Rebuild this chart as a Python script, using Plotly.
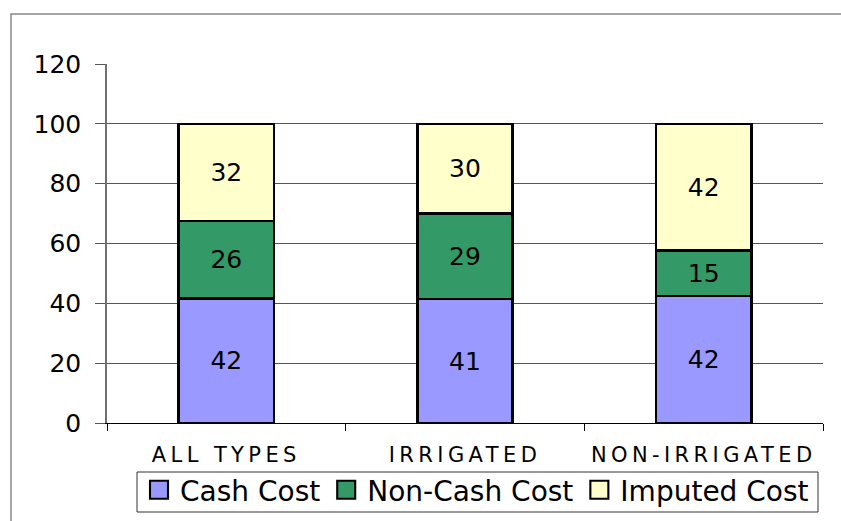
import plotly.graph_objects as go

categories = ["ALL TYPES", "IRRIGATED", "NON-IRRIGATED"]
cash_cost = [41.7, 41.4, 42.4]
non_cash_cost = [25.9, 28.7, 15.2]
imputed_cost = [32.4, 29.9, 42.4]
y_ticks = [0, 20, 40, 60, 80, 100, 120]

FONT = "DejaVu Sans"
W, H = 841, 521
L, R, T, B = 107, 18, 64, 98
pw, ph = W - L - R, H - T - B

def px_x(p):
    return (p - L) / pw

def px_y(p):
    return (H - B - p) / ph

series = [
    ("Cash Cost", cash_cost, "#9999FF"),
    ("Non-Cash Cost", non_cash_cost, "#339966"),
    ("Imputed Cost", imputed_cost, "#FFFFCC"),
]

fig = go.Figure()
for name, vals, color in series:
    fig.add_trace(go.Bar(
        x=categories, y=vals, name=name,
        marker=dict(color=color, line=dict(color="black", width=2.5)),
        texttemplate="%{y:.0f}", textposition="inside",
        insidetextanchor="middle",
        textfont=dict(family=FONT, size=25, color="black"),
        constraintext="none",
    ))

fig.update_layout(
    width=W, height=H,
    margin=dict(l=L, r=R, t=T, b=B, autoexpand=False),
    barmode="stack", bargap=0.6,
    paper_bgcolor="white", plot_bgcolor="white",
    font=dict(family=FONT, color="black"),
    showlegend=True,
    legend=dict(
        orientation="h",
        x=px_x(138), xanchor="left",
        y=px_y(465), yanchor="top",
        font=dict(family=FONT, size=28, color="black"),
        bgcolor="rgba(0,0,0,0)", borderwidth=0,
        itemwidth=32,
        traceorder="normal",
    ),
    xaxis=dict(
        type="category", tickson="boundaries",
        ticks="outside", ticklen=7, tickcolor="black", tickwidth=1,
        showline=True, linecolor="black", linewidth=1,
        showgrid=False,
        tickfont=dict(family=FONT, size=21, color="black"),
        ticklabelstandoff=13,
    ),
    yaxis=dict(
        range=[0, 120], tickvals=y_ticks, ticktext=[str(v) for v in y_ticks],
        ticks="outside", ticklen=10, tickcolor="#555555", tickwidth=1,
        showline=True, linecolor="#707070", linewidth=1.5,
        showgrid=True, gridcolor="#555555", gridwidth=1,
        zeroline=False,
        tickfont=dict(family=FONT, size=25, color="black"),
        ticklabelstandoff=9,
    ),
    shapes=[
        dict(
            type="rect", xref="paper", yref="paper",
            x0=px_x(11), x1=px_x(900), y0=px_y(600), y1=px_y(14),
            line=dict(color="#888888", width=1.5), fillcolor="rgba(0,0,0,0)",
            layer="below",
        ),
        dict(
            type="rect", xref="paper", yref="paper",
            x0=px_x(137), x1=px_x(818), y0=px_y(512), y1=px_y(472),
            line=dict(color="#333333", width=1), fillcolor="white",
            layer="below",
        ),
    ],
)

post = """
document.body.style.margin = '0';
document.body.style.padding = '0';
document.body.style.overflow = 'hidden';
var gd = document.getElementById('{plot_id}');
function sp(){
  document.querySelectorAll('.xtick text').forEach(function(t){ t.style.letterSpacing = '4.4px'; });
  document.querySelectorAll('.legend .legendpoints path').forEach(function(p){
    var t = p.getAttribute('transform') || '';
    if (t.indexOf('scale') < 0) {
      p.setAttribute('transform', t + ' scale(1.5)');
    }
    p.style.strokeWidth = '1.4px';
  });
}
sp();
gd.on('plotly_afterplot', sp);
"""

fig.write_html("out.html", post_script=post, config={"displayModeBar": False})
